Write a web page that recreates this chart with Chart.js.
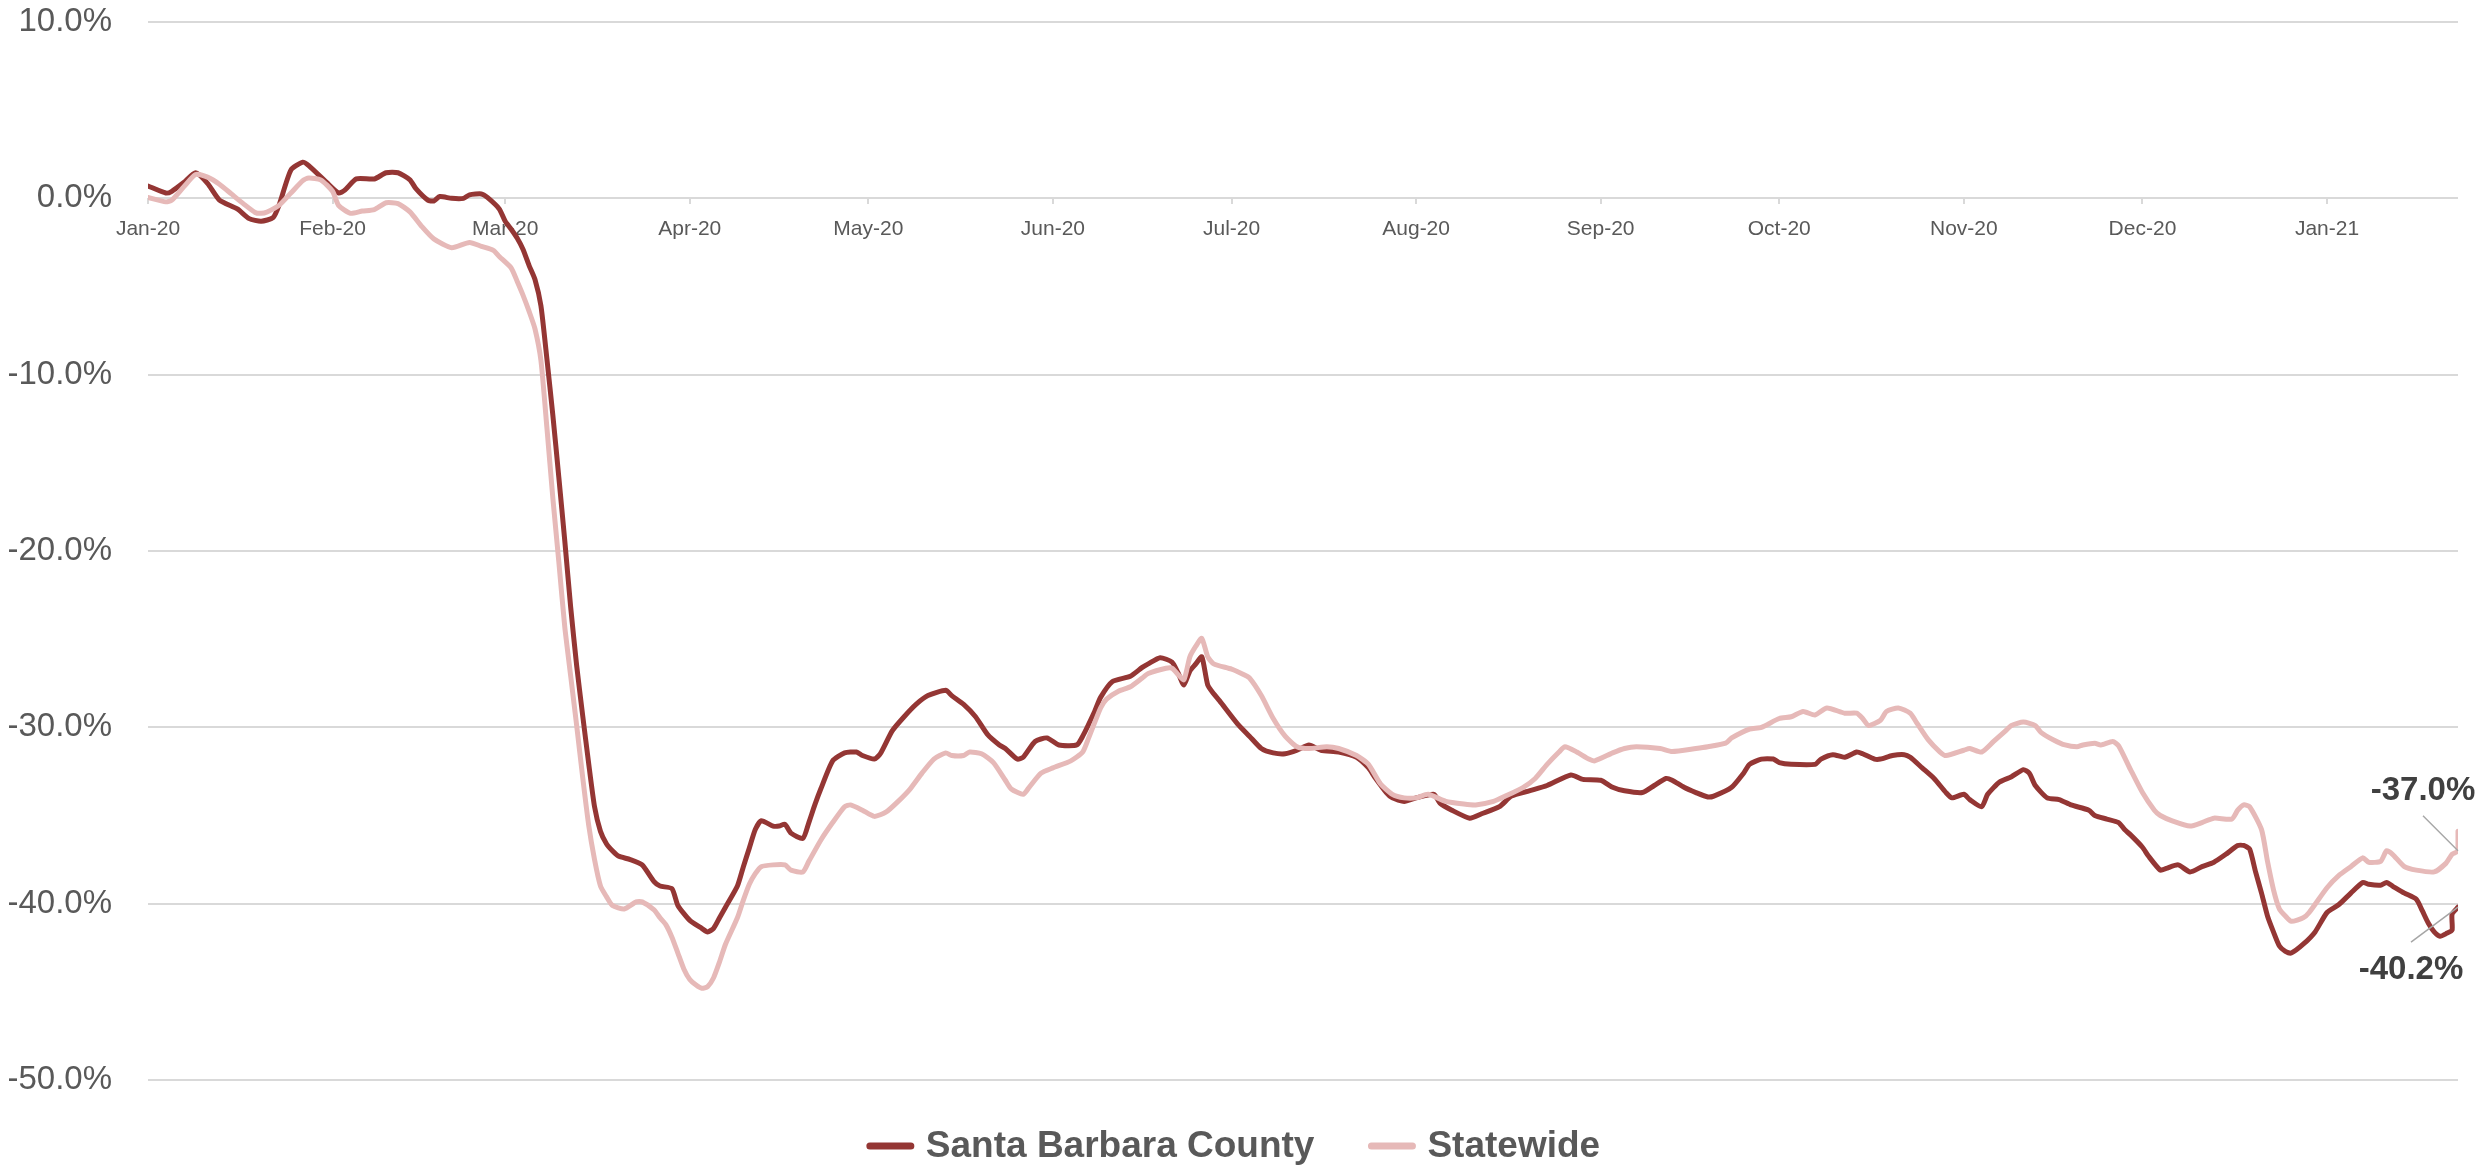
<!DOCTYPE html>
<html>
<head>
<meta charset="utf-8">
<script src="https://cdn.jsdelivr.net/npm/chart.js@4.4.1/dist/chart.umd.min.js"></script>
<style>
  body { margin: 0; background: #fff; }
  #wrap { width: 2489px; height: 1170px; }
</style>
</head>
<body>
<div id="wrap"><canvas id="myChart" width="2489" height="1170"></canvas></div>
<script>
// days since 1 Jan 2020, values in percent change
const countyDays = [0,3,4,6,8,10,12,15,17,19,21,22,24,26,27,30,32,33,35,38,40,42,44,45,47,48,49,51,53,54,56,57,59,60,61,62,63,64,65,66,67,68,69,70,71,72,73,74,75,76,77,78,79,81,83,85,86,88,89,91,93,94,95,96,97,99,100,101,102,103,105,106,107,108,110,111,112,113,115,117,119,120,122,123,125,127,129,131,134,135,137,139,141,143,144,146,147,149,151,153,156,157,159,160,162,165,167,168,170,172,173,174,175,176,177,178,179,180,183,185,187,189,191,193,195,197,200,203,205,206,208,209,211,213,216,217,219,222,224,227,229,232,235,239,241,244,246,248,251,253,255,256,258,260,262,263,266,268,269,271,273,274,276,280,281,283,285,287,288,290,291,293,295,296,298,300,302,303,305,306,308,309,311,313,315,316,317,319,321,323,326,327,329,331,332,333,335,336,338,339,341,343,345,347,349,351,352,353,354,355,356,357,358,359,360,362,364,366,368,370,372,373,375,376,377,379,381,382,383,384,385,386,387,387,388];
const countyVals = [0.7,0.3,0.4,0.9,1.45,0.85,-0.1,-0.6,-1.15,-1.3,-1.1,-0.4,1.6,2.05,1.85,0.9,0.3,0.45,1.1,1.1,1.45,1.45,1.05,0.55,-0.1,-0.15,0.1,0.0,0.0,0.2,0.25,0.05,-0.6,-1.3,-1.75,-2.25,-2.9,-3.8,-4.6,-6.1,-9.1,-12.3,-15.8,-19.4,-23.2,-26.5,-29.3,-32.0,-34.5,-35.9,-36.6,-37.0,-37.3,-37.5,-37.8,-38.75,-39.0,-39.15,-40.1,-40.95,-41.4,-41.6,-41.4,-40.8,-40.2,-39.0,-37.9,-36.85,-35.8,-35.3,-35.6,-35.6,-35.5,-36.0,-36.3,-35.4,-34.4,-33.5,-31.9,-31.45,-31.4,-31.6,-31.8,-31.5,-30.2,-29.4,-28.7,-28.2,-27.9,-28.2,-28.7,-29.4,-30.4,-31.0,-31.2,-31.8,-31.7,-30.8,-30.6,-31.0,-31.0,-30.5,-29.1,-28.3,-27.4,-27.1,-26.6,-26.4,-26.05,-26.3,-26.9,-27.6,-26.8,-26.4,-26.0,-27.6,-28.1,-28.5,-29.8,-30.5,-31.2,-31.45,-31.5,-31.3,-31.0,-31.3,-31.4,-31.7,-32.3,-32.8,-33.7,-34.0,-34.2,-34.0,-33.8,-34.3,-34.7,-35.15,-34.9,-34.5,-33.9,-33.6,-33.3,-32.7,-32.95,-33.0,-33.4,-33.6,-33.7,-33.3,-32.9,-33.0,-33.4,-33.7,-33.95,-33.9,-33.4,-32.6,-32.1,-31.8,-31.8,-32.0,-32.1,-32.1,-31.8,-31.55,-31.7,-31.4,-31.5,-31.8,-31.8,-31.6,-31.55,-31.7,-32.3,-32.9,-33.7,-34.0,-33.8,-34.1,-34.5,-33.8,-33.1,-32.8,-32.4,-32.6,-33.3,-34.0,-34.1,-34.4,-34.7,-35.0,-35.2,-35.4,-35.8,-36.1,-36.8,-37.3,-38.1,-38.0,-37.8,-38.2,-37.9,-37.65,-37.2,-36.7,-36.7,-36.9,-38.2,-39.4,-40.7,-41.6,-42.4,-42.7,-42.8,-42.3,-41.6,-40.5,-40.05,-39.4,-38.8,-38.9,-38.95,-38.8,-39.0,-39.4,-39.75,-40.4,-41.1,-41.6,-41.85,-41.7,-41.5,-40.6,-40.2];

const stateDays = [0,3,4,6,8,10,12,14,16,18,19,20,22,24,26,27,29,31,32,34,36,38,40,42,44,46,48,51,54,56,58,59,61,62,63,64,65,66,67,68,69,70,71,72,73,74,75,76,77,78,80,82,83,85,86,87,88,89,90,91,92,93,94,95,96,97,99,100,101,102,103,105,107,108,110,111,113,115,117,118,120,122,124,126,128,130,132,134,135,137,138,140,142,144,145,147,148,150,152,155,157,158,160,161,163,165,167,168,171,172,173,174,175,176,177,178,179,182,184,185,187,189,191,193,195,198,200,203,205,207,209,211,213,215,218,221,223,226,228,231,233,235,237,238,240,242,243,246,248,250,254,256,260,262,265,266,269,271,274,276,278,280,282,285,287,288,289,291,292,294,296,297,299,301,302,305,306,308,310,312,313,315,317,318,320,322,324,325,327,328,330,331,333,335,337,338,340,343,345,347,350,351,352,353,355,356,357,358,359,360,362,363,366,368,370,372,373,375,376,377,379,381,384,386,387,388,388];
const stateVals = [0.05,-0.2,-0.1,0.65,1.35,1.2,0.8,0.25,-0.3,-0.8,-0.85,-0.77,-0.4,0.3,1.0,1.15,1.05,0.4,-0.4,-0.85,-0.72,-0.64,-0.25,-0.3,-0.77,-1.6,-2.3,-2.8,-2.5,-2.72,-2.95,-3.3,-3.95,-4.7,-5.5,-6.4,-7.4,-9.2,-13.0,-17.0,-20.6,-24.3,-27.1,-29.9,-32.8,-35.5,-37.5,-39.0,-39.6,-40.1,-40.3,-39.9,-39.9,-40.35,-40.8,-41.2,-41.9,-42.8,-43.7,-44.3,-44.6,-44.8,-44.7,-44.2,-43.3,-42.3,-40.8,-39.8,-38.9,-38.3,-37.9,-37.8,-37.8,-38.1,-38.2,-37.6,-36.4,-35.4,-34.5,-34.4,-34.7,-35.05,-34.8,-34.2,-33.5,-32.6,-31.8,-31.45,-31.6,-31.6,-31.4,-31.5,-32.0,-33.0,-33.5,-33.8,-33.4,-32.6,-32.3,-31.9,-31.4,-30.6,-28.9,-28.4,-27.95,-27.7,-27.2,-26.95,-26.65,-26.65,-27.0,-27.3,-26.0,-25.4,-24.95,-26.0,-26.4,-26.7,-27.0,-27.2,-28.2,-29.5,-30.5,-31.1,-31.2,-31.1,-31.2,-31.6,-32.1,-33.2,-33.8,-34.0,-34.0,-33.8,-34.2,-34.35,-34.4,-34.2,-33.9,-33.4,-32.9,-32.1,-31.4,-31.1,-31.4,-31.8,-31.9,-31.45,-31.2,-31.1,-31.2,-31.37,-31.2,-31.1,-30.9,-30.6,-30.1,-30.0,-29.5,-29.4,-29.1,-29.3,-28.9,-29.2,-29.2,-29.5,-29.9,-29.6,-29.1,-28.9,-29.2,-29.7,-30.7,-31.4,-31.6,-31.3,-31.2,-31.4,-30.8,-30.2,-29.9,-29.7,-29.9,-30.3,-30.7,-31.0,-31.1,-31.0,-30.9,-31.0,-30.8,-31.05,-32.4,-33.7,-34.7,-35.0,-35.3,-35.6,-35.4,-35.15,-35.2,-34.7,-34.4,-34.5,-35.8,-37.6,-39.2,-40.3,-40.7,-41.0,-40.8,-40.5,-39.1,-38.4,-37.9,-37.4,-37.65,-37.6,-37.0,-37.2,-37.9,-38.1,-38.2,-37.7,-37.2,-37.0,-35.9];

const monthStarts = [0,31,60,91,121,152,182,213,244,274,305,335,366];
const monthLabels = ['Jan-20','Feb-20','Mar-20','Apr-20','May-20','Jun-20','Jul-20','Aug-20','Sep-20','Oct-20','Nov-20','Dec-20','Jan-21'];
const yTicks = [10, 0, -10, -20, -30, -40, -50];

const seriesNames = ['Santa Barbara County', 'Statewide'];
const seriesColors = ['#943634', '#e6b9b8'];

const fontFamily = "'Liberation Sans Narrow', 'Liberation Sans', sans-serif";

function toPoints(days, vals) {
    return days.map((d, i) => ({ x: d, y: vals[i] }));
}

// labels at the end of the lines, with leader lines
const endLabels = [
    { ds: 0, index: countyDays.length - 1, dx: -47, dy: 63, lineDy: 35 },
    { ds: 1, index: stateDays.length - 2, dx: -35, dy: -60, lineDy: -35 }
];

const endLabelPlugin = {
    id: 'endLabels',
    afterDatasetsDraw(chart) {
        const ctx = chart.ctx;
        ctx.save();
        endLabels.forEach(l => {
            const pt = chart.getDatasetMeta(l.ds).data[l.index];
            const val = chart.data.datasets[l.ds].data[l.index].y;
            ctx.strokeStyle = '#a6a6a6';
            ctx.lineWidth = 1.5;
            ctx.beginPath();
            ctx.moveTo(pt.x + l.dx, pt.y + l.lineDy);
            ctx.lineTo(pt.x, pt.y);
            ctx.stroke();
            ctx.fillStyle = '#404040';
            ctx.font = 'bold 33px ' + fontFamily;
            ctx.textAlign = 'center';
            ctx.textBaseline = 'middle';
            ctx.fillText(val.toFixed(1) + '%', pt.x + l.dx, pt.y + l.dy);
        });
        ctx.restore();
    }
};

const legendPlugin = {
    id: 'bottomLegend',
    afterDraw(chart) {
        const ctx = chart.ctx;
        ctx.save();
        ctx.font = 'bold 37px ' + fontFamily;
        const items = chart.data.datasets.map(d => ({
            text: d.label, color: d.borderColor, w: ctx.measureText(d.label).width
        }));
        const lineLen = 47, gap = 12, spacing = 54;
        let total = items.reduce((s, it) => s + lineLen + gap + it.w, 0) + spacing * (items.length - 1);
        let x = chart.width / 2 - total / 2 - 11;
        const y = chart.chartArea.bottom + 66;
        items.forEach(it => {
            ctx.strokeStyle = it.color;
            ctx.lineWidth = 7;
            ctx.lineCap = 'round';
            ctx.beginPath();
            ctx.moveTo(x + 3, y);
            ctx.lineTo(x + lineLen - 3, y);
            ctx.stroke();
            ctx.fillStyle = '#595959';
            ctx.textAlign = 'left';
            ctx.textBaseline = 'middle';
            ctx.fillText(it.text, x + lineLen + gap, y + 1);
            x += lineLen + gap + it.w + spacing;
        });
        ctx.restore();
    }
};

const ctx = document.getElementById('myChart');
const myChart = new Chart(ctx, {
    type: 'line',
    data: {
        datasets: [{
            label: seriesNames[0],
            data: toPoints(countyDays, countyVals),
            borderColor: seriesColors[0],
            borderWidth: 5,
            order: 1
        }, {
            label: seriesNames[1],
            data: toPoints(stateDays, stateVals),
            borderColor: seriesColors[1],
            borderWidth: 5,
            order: 0
        }]
    },
    options: {
        responsive: false,
        animation: false,
        devicePixelRatio: 1,
        layout: { padding: { left: 0, right: 31, top: 22, bottom: 90 } },
        elements: {
            point: { radius: 0 },
            line: { tension: 0.2, borderJoinStyle: 'round', borderCapStyle: 'round' }
        },
        plugins: {
            legend: { display: false },
            tooltip: { enabled: false }
        },
        scales: {
            x: {
                type: 'linear',
                min: 0,
                max: 388,
                position: { y: 0 },
                afterBuildTicks: (scale) => {
                    scale.ticks = monthStarts.map(v => ({ value: v }));
                },
                ticks: {
                    autoSkip: false,
                    maxRotation: 0,
                    padding: 12,
                    color: '#595959',
                    font: { family: fontFamily, size: 21 },
                    callback: (v) => monthLabels[monthStarts.indexOf(v)]
                },
                grid: { drawOnChartArea: false, drawTicks: true, tickLength: 6, color: '#d9d9d9', lineWidth: 2 },
                border: { display: false }
            },
            y: {
                min: -50,
                max: 10,
                afterBuildTicks: (scale) => {
                    scale.ticks = yTicks.map(v => ({ value: v }));
                },
                afterFit: (scale) => { scale.width = 148; },
                ticks: {
                    padding: 1,
                    color: '#595959',
                    font: { family: fontFamily, size: 33 },
                    callback: (v) => v.toFixed(1) + '%'
                },
                grid: { drawTicks: true, tickLength: 35, tickColor: 'rgba(0,0,0,0)', color: '#d9d9d9', lineWidth: 2 },
                border: { display: false }
            }
        }
    },
    plugins: [endLabelPlugin, legendPlugin]
});
</script>
</body>
</html>
